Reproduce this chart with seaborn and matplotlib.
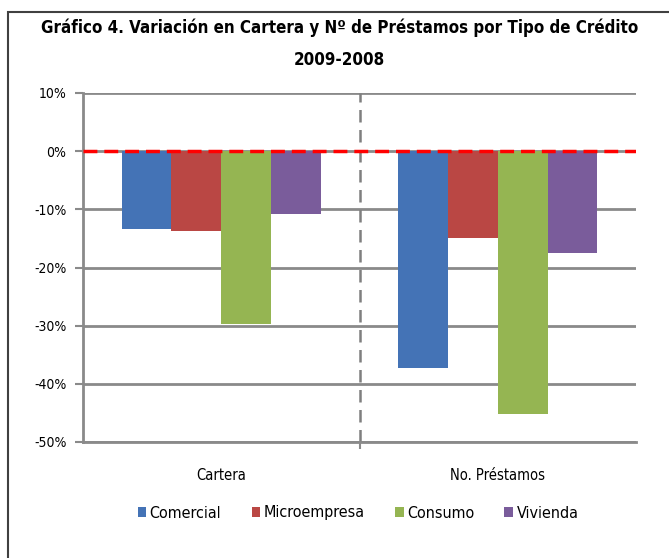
import numpy as np
import pandas as pd
import matplotlib
matplotlib.use("Agg")
import matplotlib.pyplot as plt
import seaborn as sns
from matplotlib.patches import Rectangle
from matplotlib.ticker import FuncFormatter

# datos (variacion 2009-2008, %)
grupos = ["Cartera", "No. Préstamos"]
tipos = ["Comercial", "Microempresa", "Consumo", "Vivienda"]
cartera = [-13.4, -13.7, -29.7, -10.8]
prestamos = [-37.3, -15.0, -45.2, -17.5]
colores = ["#4473B6", "#BA4744", "#95B552", "#7A5C9B"]

df = pd.DataFrame({
    "grupo": [grupos[0]] * 4 + [grupos[1]] * 4,
    "tipo": tipos * 2,
    "valor": cartera + prestamos,
})

sns.set_style("white")
plt.rcParams["font.family"] = ["DejaVu Sans"]
plt.rcParams["font.stretch"] = "condensed"
plt.rcParams["text.color"] = "black"
plt.rcParams["xtick.labelcolor"] = "black"
plt.rcParams["ytick.labelcolor"] = "black"

fig = plt.figure(figsize=(6.69, 5.58), dpi=100)
ax = fig.add_axes([83 / 669, 1 - 442 / 558, (636 - 83) / 669, (442 - 93) / 558])

# marco exterior
fig.patches.append(Rectangle((8 / 669, -0.1), 1.2, 1.1 - 12 / 558,
                             transform=fig.transFigure, fill=False,
                             edgecolor="#404040", linewidth=1.5))

sns.barplot(data=df, x="grupo", y="valor", hue="tipo", palette=colores,
            width=0.72, saturation=1, linewidth=0, ax=ax, zorder=3)

ax.set_ylim(-50, 10)
ax.set_xlim(-0.5, 1.5)
ax.set_yticks(np.arange(-50, 11, 10))
ax.yaxis.set_major_formatter(FuncFormatter(lambda v, p: f"{v:.0f}%"))
for yv in np.arange(-50, 11, 10):
    ax.axhline(yv, color="#8A8A8A", linewidth=2, zorder=1)

ax.axhline(0, xmin=0, xmax=1, color="#FF0000", linewidth=2.5,
           dashes=(4, 2), zorder=5)
ax.axvline(0.5, color="#7F7F7F", linewidth=1.8, dashes=(5, 3), zorder=2)

for s in ["top", "right"]:
    ax.spines[s].set_visible(False)
for s in ["left", "bottom"]:
    ax.spines[s].set_color("#8A8A8A")
    ax.spines[s].set_linewidth(2)

ax.tick_params(axis="y", length=6, width=1.5, color="#8A8A8A", labelsize=10,
               left=True, pad=6)
ax.set_xticks([0, 1])
ax.set_xticklabels(grupos)
ax.tick_params(axis="x", length=0, pad=19, labelsize=10.5)
ax.set_xticks([0.5], minor=True)
ax.tick_params(axis="x", which="minor", length=5, width=1.5, color="#8A8A8A",
               bottom=True)
ax.set_xlabel("")
ax.set_ylabel("")

ax.legend_.remove()
h, l = ax.get_legend_handles_labels()
fig.legend(h, l, loc="center", bbox_to_anchor=(0.535, 1 - 513 / 558), ncol=4,
           frameon=False, fontsize=11.5, handlelength=0.55, handleheight=0.55,
           handletextpad=0.2, columnspacing=1.9)

fig.text(0.508, 1 - 28 / 558, "Gráfico 4. Variación en Cartera y Nº de Préstamos por Tipo de Crédito",
         ha="center", va="center", fontsize=12.2, fontweight="bold")
fig.text(0.508, 1 - 60 / 558, "2009-2008", ha="center", va="center",
         fontsize=12.2, fontweight="bold")

fig.savefig("out.png", dpi=100)
